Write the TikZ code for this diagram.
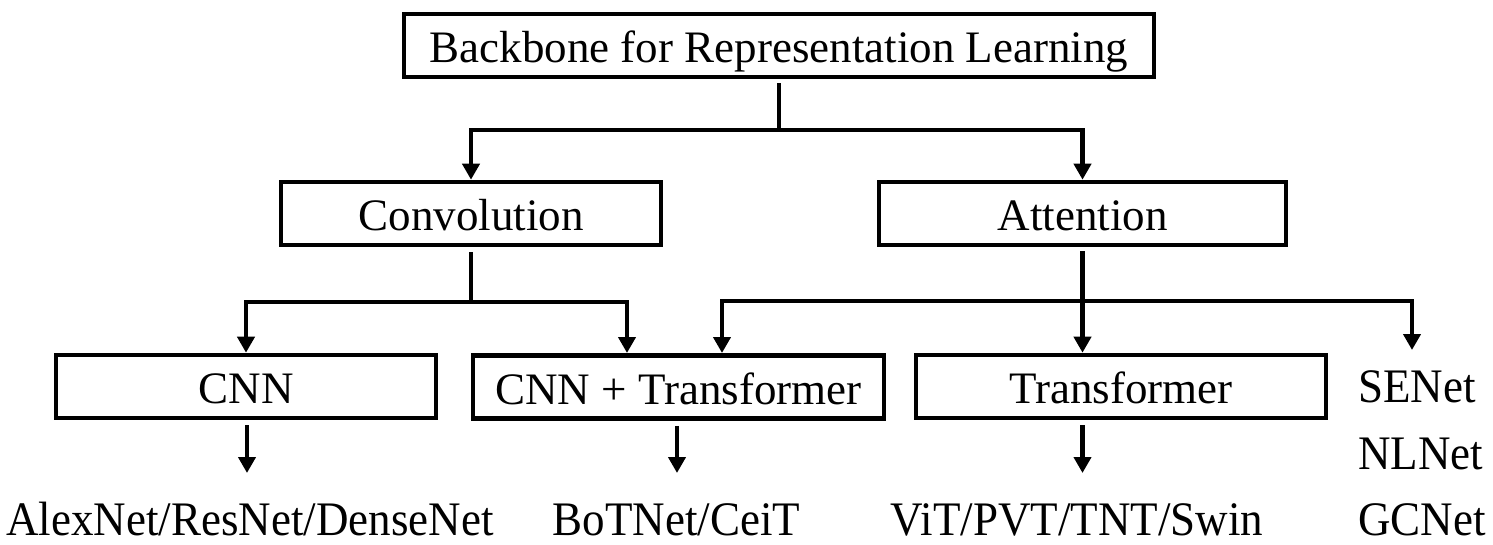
\documentclass[tikz,border=0pt]{standalone}
\usepackage{fontspec}
\usepackage{graphicx}
\setmainfont{Liberation Serif}
\usetikzlibrary{arrows.meta}
\newcommand{\tallish}[1]{\scalebox{1}[1.07]{#1}}
\begin{document}
\begin{tikzpicture}[x=1pt,y=-1pt,
  box/.style={draw, line width=4.6pt, minimum height=63pt, inner sep=0pt,
    text height=34pt, text depth=0pt, font=\fontsize{45}{54}\selectfont},
  lbl/.style={anchor=base, inner sep=0pt, font=\fontsize{45}{54}\selectfont},
  conn/.style={line width=4.4pt},
  arr/.style={line width=4.4pt, -{Triangle[width=17pt,length=16pt]}}]
\useasboundingbox (0,0) rectangle (1493,545);

% boxes
\node[box, minimum width=750pt] (root) at (779,45.5) {Backbone for Representation Learning};
\node[box, minimum width=380pt] (conv) at (471,213.5) {Convolution};
\node[box, minimum width=407pt] (att) at (1082.5,213.5) {Attention};
\node[box, minimum width=380pt] (cnn) at (246,386.5) {CNN};
\node[box, minimum width=411pt] (cnnt) at (678.5,387) {CNN + Transformer};
\node[box, minimum width=410pt] (trans) at (1121,386.5) {Transformer};

% leaf texts
\node[lbl] (alex) at (250,535) {\tallish{AlexNet/ResNet/DenseNet}};
\node[lbl] (bot) at (676.5,535) {\tallish{BoTNet/CeiT}};
\node[lbl] (vit) at (1077,535) {\tallish{ViT/PVT/TNT/Swin}};
\node[lbl, anchor=base west] (senet) at (1358,402) {\tallish{SENet}};
\node[lbl, anchor=base west] (nlnet) at (1358,469) {\tallish{NLNet}};
\node[lbl, anchor=base west] (gcnet) at (1358,535) {\tallish{GCNet}};

% junctions and free ends
\coordinate (j1) at (779,130);
\coordinate (j2) at (471,302);
\coordinate (j3) at (1082.5,301);
\coordinate (c1) at (627,353);
\coordinate (c2) at (722,353);
\coordinate (se) at (1412,350);
\coordinate (a1) at (247,473);
\coordinate (a2) at (677,473);
\coordinate (a3) at (1082.5,473);

% level 1
\draw[conn] ([yshift=-4pt]root.south) -- (j1);
\draw[arr] (j1) -| (conv.north);
\draw[arr] (j1) -| (att.north);

% convolution branch
\draw[conn] ([yshift=-5pt]conv.south) -- (j2);
\draw[arr] (j2) -| (cnn.north);
\draw[arr] (j2) -| (c1);

% attention branch
\draw[arr] ([yshift=-4pt]att.south) -- (att.south |- trans.north);
\draw[arr] (j3) -| (c2);
\draw[arr] (j3) -| (se);

% leaves
\draw[arr] (cnn.south -| a1) ++(0,5) -- (a1);
\draw[arr] (cnnt.south -| a2) ++(0,5) -- (a2);
\draw[arr] (trans.south -| a3) ++(0,5) -- (a3);
\end{tikzpicture}
\end{document}
